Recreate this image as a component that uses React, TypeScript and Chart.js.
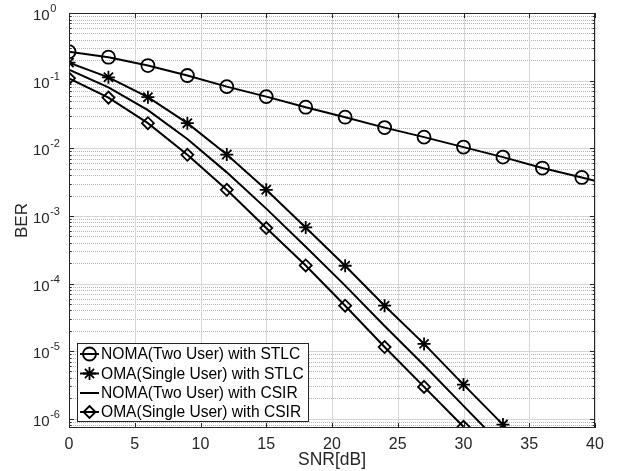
import React, { useEffect, useRef } from 'react';
import { Chart, registerables } from 'chart.js';

Chart.register(...registerables);

const FONT = '"Liberation Sans", Arial, Helvetica, sans-serif';

// ---- data ----
const snrNomaStlc = [0, 3, 6, 9, 12, 15, 18, 21, 24, 27, 30, 33, 36, 39, 40];
const berNomaStlc = [0.268, 0.222, 0.167, 0.119, 0.0815, 0.058, 0.0405, 0.0288, 0.0202, 0.0146, 0.0104, 0.0074, 0.0051, 0.0037, 0.0033];

const snrOmaStlc = [0, 3, 6, 9, 12, 15, 18, 21, 24, 27, 30, 33];
const berOmaStlc = [0.1845, 0.112, 0.0569, 0.0235, 0.00807, 0.00243, 6.75e-4, 1.83e-4, 4.7e-5, 1.28e-5, 3.2e-6, 8.2e-7];

const snrNomaCsir = [0, 3, 6, 9, 12, 15, 18, 21, 24, 27, 30, 33];
const berNomaCsir = [0.145, 0.0795, 0.0366, 0.0137, 0.0044, 0.00128, 3.5e-4, 9.3e-5, 2.35e-5, 6.2e-6, 1.55e-6, 3.9e-7];

const snrOmaCsir = [0, 3, 6, 9, 12, 15, 18, 21, 24, 27, 30];
const berOmaCsir = [0.108, 0.0561, 0.0235, 0.008, 0.00243, 6.6e-4, 1.85e-4, 4.7e-5, 1.15e-5, 2.96e-6, 7.6e-7];

const seriesLabels = [
  'NOMA(Two User) with STLC',
  'OMA(Single User) with STLC',
  'NOMA(Two User) with CSIR',
  'OMA(Single User) with CSIR',
];
const markerKinds = ['circle', 'star', 'none', 'diamond'];

const xTickValues = [0, 5, 10, 15, 20, 25, 30, 35, 40];
const yDecadeExponents = [0, -1, -2, -3, -4, -5, -6];
const X_MIN = 0;
const X_MAX = 40;
const Y_MIN = 7.3e-7;
const Y_MAX = 1;

const toPoints = (xs: number[], ys: number[]) => xs.map((x, i) => ({ x, y: ys[i] }));

function drawMarker(ctx: CanvasRenderingContext2D, kind: string, cx: number, cy: number) {
  ctx.save();
  ctx.setLineDash([]);
  ctx.strokeStyle = '#000';
  ctx.lineWidth = 1.8;
  ctx.beginPath();
  if (kind === 'circle') {
    ctx.arc(cx, cy, 6.5, 0, Math.PI * 2);
  } else if (kind === 'star') {
    const r = 6.5;
    const d = r * Math.SQRT1_2;
    ctx.moveTo(cx - r, cy); ctx.lineTo(cx + r, cy);
    ctx.moveTo(cx, cy - r); ctx.lineTo(cx, cy + r);
    ctx.moveTo(cx - d, cy - d); ctx.lineTo(cx + d, cy + d);
    ctx.moveTo(cx - d, cy + d); ctx.lineTo(cx + d, cy - d);
  } else if (kind === 'diamond') {
    const r = 6;
    ctx.moveTo(cx, cy - r); ctx.lineTo(cx + r, cy); ctx.lineTo(cx, cy + r); ctx.lineTo(cx - r, cy); ctx.closePath();
  }
  ctx.stroke();
  ctx.restore();
}

const matlabFrame = {
  id: 'matlabFrame',
  beforeDatasetsDraw(chart: any) {
    const { ctx, chartArea: a, scales } = chart;
    const xs = scales.x;
    const ys = scales.y;
    ctx.save();
    ctx.lineWidth = 1;
    // minor y grid (dotted)
    ctx.setLineDash([1, 1]);
    ctx.strokeStyle = '#b4b4b4';
    for (let k = -7; k <= 0; k++) {
      for (let m = 2; m <= 9; m++) {
        const v = m * Math.pow(10, k);
        if (v < Y_MIN || v > Y_MAX) continue;
        const py = Math.round(ys.getPixelForValue(v)) + 0.5;
        ctx.beginPath();
        ctx.moveTo(a.left, py);
        ctx.lineTo(a.right, py);
        ctx.stroke();
      }
    }
    // major grid (solid)
    ctx.setLineDash([]);
    ctx.strokeStyle = '#d6d6d6';
    for (const e of yDecadeExponents) {
      const py = Math.round(ys.getPixelForValue(Math.pow(10, e))) + 0.5;
      ctx.beginPath();
      ctx.moveTo(a.left, py);
      ctx.lineTo(a.right, py);
      ctx.stroke();
    }
    for (const v of xTickValues) {
      const px = Math.round(xs.getPixelForValue(v)) + 0.5;
      ctx.beginPath();
      ctx.moveTo(px, a.top);
      ctx.lineTo(px, a.bottom);
      ctx.stroke();
    }
    ctx.restore();
  },
  afterDatasetsDraw(chart: any) {
    const { ctx, chartArea: a, scales } = chart;
    const xs = scales.x;
    const ys = scales.y;
    ctx.save();
    ctx.setLineDash([]);
    ctx.strokeStyle = '#262626';
    ctx.lineWidth = 1;
    // box
    ctx.strokeRect(a.left + 0.5, a.top + 0.5, a.right - a.left - 1, a.bottom - a.top - 1);
    // x ticks (inward, top and bottom)
    const tl = 5;
    ctx.beginPath();
    for (const v of xTickValues) {
      const px = Math.round(xs.getPixelForValue(v)) + 0.5;
      ctx.moveTo(px, a.bottom); ctx.lineTo(px, a.bottom - tl);
      ctx.moveTo(px, a.top); ctx.lineTo(px, a.top + tl);
    }
    // y ticks
    for (let k = -7; k <= 0; k++) {
      for (let m = 1; m <= 9; m++) {
        const v = m * Math.pow(10, k);
        if (v < Y_MIN || v > Y_MAX) continue;
        const py = Math.round(ys.getPixelForValue(v)) + 0.5;
        const len = m === 1 ? tl : 2.5;
        ctx.moveTo(a.left, py); ctx.lineTo(a.left + len, py);
        ctx.moveTo(a.right, py); ctx.lineTo(a.right - len, py);
      }
    }
    ctx.stroke();

    // y tick labels 10^k
    ctx.fillStyle = '#262626';
    ctx.textAlign = 'left';
    ctx.textBaseline = 'middle';
    for (const e of yDecadeExponents) {
      const py = ys.getPixelForValue(Math.pow(10, e));
      ctx.font = `15px ${FONT}`;
      const baseX = 33;
      ctx.fillText('10', baseX, py + 3);
      const w = ctx.measureText('10').width;
      ctx.font = `11px ${FONT}`;
      ctx.fillText(String(e), baseX + w + 0.5, py - 4);
    }

    // legend
    const lx = 77, ly = 343, lw = 231, lh = 78;
    ctx.fillStyle = '#ffffff';
    ctx.fillRect(lx, ly, lw, lh);
    ctx.strokeStyle = '#262626';
    ctx.lineWidth = 1;
    ctx.strokeRect(lx + 0.5, ly + 0.5, lw, lh);
    const rowY = [354, 373.5, 393, 412];
    seriesLabels.forEach((label, i) => {
      const cy = rowY[i];
      ctx.strokeStyle = '#000';
      ctx.lineWidth = 2;
      ctx.beginPath();
      ctx.moveTo(80, cy);
      ctx.lineTo(99, cy);
      ctx.stroke();
      drawMarker(ctx, markerKinds[i], 89.5, cy);
      ctx.fillStyle = '#000';
      ctx.font = `15.6px ${FONT}`;
      ctx.textAlign = 'left';
      ctx.textBaseline = 'middle';
      ctx.fillText(label, 101, cy + 1);
    });
    ctx.restore();
  },
};

export default function App() {
  const canvasRef = useRef<HTMLCanvasElement | null>(null);

  useEffect(() => {
    if (!canvasRef.current) return;
    Chart.defaults.font.family = FONT;
    const common = {
      borderColor: '#000',
      borderWidth: 2,
      pointBorderColor: '#000',
      pointBackgroundColor: 'rgba(0,0,0,0)',
      pointBorderWidth: 1.8,
      tension: 0,
      fill: false,
    };
    const chart = new Chart(canvasRef.current, {
      type: 'line',
      data: {
        datasets: [
          {
            ...common,
            label: seriesLabels[0],
            data: toPoints(snrNomaStlc, berNomaStlc),
            pointStyle: 'circle',
            pointRadius: snrNomaStlc.map((x) => (x % 3 === 0 ? 6.5 : 0)),
          },
          {
            ...common,
            label: seriesLabels[1],
            data: toPoints(snrOmaStlc, berOmaStlc),
            pointStyle: 'star',
            pointRadius: 6.5,
          },
          {
            ...common,
            label: seriesLabels[2],
            data: toPoints(snrNomaCsir, berNomaCsir),
            pointRadius: 0,
          },
          {
            ...common,
            label: seriesLabels[3],
            data: toPoints(snrOmaCsir, berOmaCsir),
            pointStyle: 'rectRot',
            pointRadius: 6,
          },
        ],
      },
      options: {
        responsive: false,
        animation: false,
        events: [],
        layout: { padding: { left: 0, top: 13, right: 22, bottom: 0 } },
        plugins: { legend: { display: false }, tooltip: { enabled: false } },
        scales: {
          x: {
            type: 'linear',
            min: X_MIN,
            max: X_MAX,
            afterBuildTicks: (scale: any) => {
              scale.ticks = xTickValues.map((v) => ({ value: v }));
            },
            afterFit: (scale: any) => {
              scale.height = 43;
            },
            ticks: {
              color: '#262626',
              font: { size: 16, family: FONT },
              padding: 7,
              maxRotation: 0,
              autoSkip: false,
            },
            grid: { display: false, drawTicks: false },
            border: { display: false },
            title: {
              display: true,
              text: 'SNR[dB]',
              color: '#262626',
              font: { size: 17.5, family: FONT },
              padding: { top: 0, bottom: 0.5 },
            },
          },
          y: {
            type: 'logarithmic',
            min: Y_MIN,
            max: Y_MAX,
            afterFit: (scale: any) => {
              scale.width = 69;
            },
            ticks: { display: false },
            grid: { display: false, drawTicks: false },
            border: { display: false },
            title: {
              display: true,
              text: 'BER',
              color: '#262626',
              font: { size: 17, family: FONT },
              padding: { top: 12, bottom: 0 },
            },
          },
        },
      },
      plugins: [matlabFrame],
    } as any);
    return () => chart.destroy();
  }, []);

  return (
    <div style={{ position: 'fixed', left: 0, top: 0, width: 617, height: 471, background: '#fff' }}>
      <canvas ref={canvasRef} width={617} height={471} style={{ display: 'block' }} />
    </div>
  );
}
